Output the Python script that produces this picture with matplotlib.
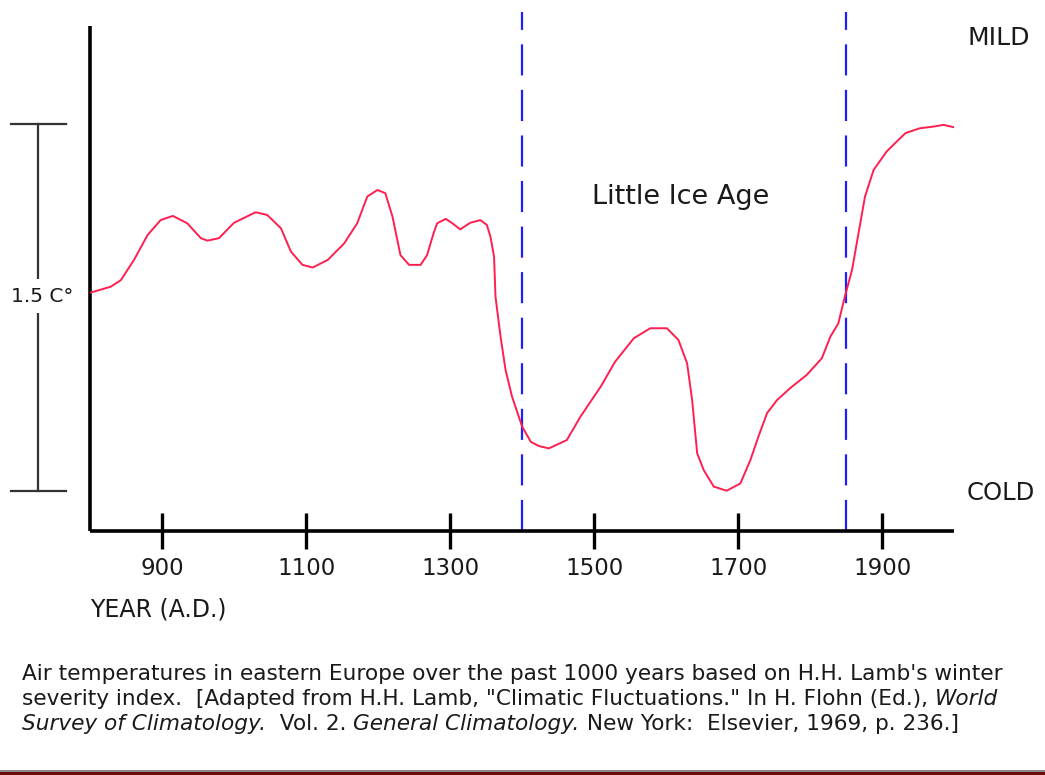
import matplotlib
matplotlib.use("Agg")
import matplotlib.pyplot as plt
from matplotlib.transforms import blended_transform_factory
from matplotlib.patches import Rectangle

# ---------------- data ----------------
years = [800, 829, 843, 861, 880, 898, 915, 935, 954, 963, 979, 1000, 1030, 1046,
         1065, 1079, 1095, 1109, 1130, 1153, 1171, 1185, 1199, 1210, 1220, 1231,
         1243, 1259, 1268, 1277, 1282, 1294, 1303, 1314, 1328, 1342, 1351, 1356,
         1361, 1363, 1370, 1377, 1386, 1400, 1412, 1423, 1437, 1462, 1481, 1509,
         1529, 1555, 1578, 1601, 1617, 1629, 1636, 1643, 1652, 1666, 1684, 1703,
         1717, 1728, 1740, 1754, 1772, 1795, 1816, 1828, 1839, 1848, 1858, 1867,
         1876, 1888, 1906, 1932, 1952, 1971, 1985, 2000]
temps = [0.81, 0.835, 0.862, 0.944, 1.046, 1.107, 1.124, 1.094, 1.033, 1.023, 1.033,
         1.096, 1.139, 1.128, 1.074, 0.978, 0.924, 0.913, 0.944, 1.012, 1.094, 1.203,
         1.230, 1.217, 1.121, 0.964, 0.924, 0.924, 0.964, 1.053, 1.094, 1.112, 1.094,
         1.069, 1.096, 1.107, 1.087, 1.039, 0.957, 0.794, 0.631, 0.494, 0.385, 0.263,
         0.201, 0.184, 0.174, 0.208, 0.304, 0.426, 0.528, 0.624, 0.665, 0.665, 0.617,
         0.522, 0.372, 0.154, 0.086, 0.018, 0.001, 0.031, 0.127, 0.222, 0.318, 0.372,
         0.420, 0.474, 0.542, 0.631, 0.685, 0.794, 0.903, 1.053, 1.203, 1.312, 1.387,
         1.462, 1.482, 1.489, 1.496, 1.486]
tick_years = [900, 1100, 1300, 1500, 1700, 1900]
tick_labels = ["900", "1100", "1300", "1500", "1700", "1900"]
ice_age_bounds = [1400, 1850]
scale_span = [0.0, 1.5]          # degrees C (COLD .. MILD reference bar)
scale_label = "1.5 C°"

caption_lines = [
    [("Air temperatures in eastern Europe over the past 1000 years based on H.H. Lamb's winter", "normal")],
    [("severity index.  [Adapted from H.H. Lamb, \"Climatic Fluctuations.\" In H. Flohn (Ed.), ", "normal"),
     ("World", "italic")],
    [("Survey of Climatology.", "italic"), ("  Vol. 2. ", "normal"),
     ("General Climatology.", "italic"), (" New York:  Elsevier, 1969, p. 236.]", "normal")],
]

# ---------------- figure ----------------
W, H = 1045, 775
fig = plt.figure(figsize=(W / 100, H / 100), dpi=100)
fig.patch.set_facecolor("white")

ax_l, ax_r, ax_t, ax_b = 90, 954.3, 26, 531
ax = fig.add_axes([ax_l / W, (H - ax_b) / H, (ax_r - ax_l) / W, (ax_b - ax_t) / H])
ax.set_xlim(800, 2000)
ax.set_ylim(-0.1635, 1.900)

ink = "#1a1a1a"
for s in ["top", "right"]:
    ax.spines[s].set_visible(False)
for s in ["left", "bottom"]:
    ax.spines[s].set_linewidth(2.6)
    ax.spines[s].set_color("black")
    ax.spines[s].set_capstyle("butt")

ax.set_yticks([])
ax.set_xticks(tick_years)
ax.set_xticklabels(tick_labels, fontsize=16.5, color=ink)
ax.tick_params(axis="x", direction="inout", length=26, width=2.4, pad=6, colors="black",
               labelcolor=ink)

# curve
ax.plot(years, temps, color="#ff1f4f", lw=1.4, solid_joinstyle="round", zorder=3)

# Little Ice Age boundaries
for b in ice_age_bounds:
    ax.axvline(b, ymin=0, ymax=1.028, clip_on=False, color="#1e1eff", lw=1.6,
               dashes=(14, 6.5), zorder=2)

ax.text(1620, 1.203, "Little Ice Age", fontsize=19.5, color=ink, ha="center", va="center")

# MILD / COLD labels
tr_right = blended_transform_factory(fig.transFigure, ax.transData)
fig.text(967 / W, (H - 38) / H, "MILD", fontsize=18, color=ink, ha="left", va="center")
fig.text(967 / W, (H - 493) / H, "COLD", fontsize=17.5, color=ink, ha="left", va="center")

# scale bar
xc = 38.3 / W
ax.plot([xc, xc], scale_span, transform=tr_right, clip_on=False, color="#333333", lw=1.6)
for v in scale_span:
    ax.plot([11 / W, 66 / W], [v, v], transform=tr_right, clip_on=False, color="#333333", lw=1.6)
fig.text(42 / W, (H - 296) / H, scale_label, fontsize=14.5, color=ink, ha="center", va="center",
         bbox=dict(facecolor="white", edgecolor="none", boxstyle="square,pad=0.35"))

# axis title
fig.text(90 / W, (H - 609) / H, "YEAR (A.D.)", fontsize=17, color=ink, ha="left", va="center")

# caption
fig.canvas.draw()
renderer = fig.canvas.get_renderer()
cap_fs = 15.6


def seg_width(txt, style):
    a = fig.text(0, 0, txt + "|", fontsize=cap_fs, style=style)
    b = fig.text(0, 0, "|", fontsize=cap_fs, style=style)
    w = a.get_window_extent(renderer).width - b.get_window_extent(renderer).width
    a.remove()
    b.remove()
    return w


baselines = [680, 705, 730]
for line, yb in zip(caption_lines, baselines):
    x = 22.0
    for txt, style in line:
        fig.text(x / W, (H - yb) / H, txt, fontsize=cap_fs, style=style, color=ink,
                 ha="left", va="baseline")
        x += seg_width(txt, style)

# bottom border
fig.patches.append(Rectangle((0, 0), 1, 3.5 / H, transform=fig.transFigure,
                             facecolor="#6e0a0a", edgecolor="none"))
fig.patches.append(Rectangle((0, 3.5 / H), 1, 1.2 / H, transform=fig.transFigure,
                             facecolor="#8a8a8a", edgecolor="none"))

fig.savefig("out.png", dpi=100, facecolor="white")
